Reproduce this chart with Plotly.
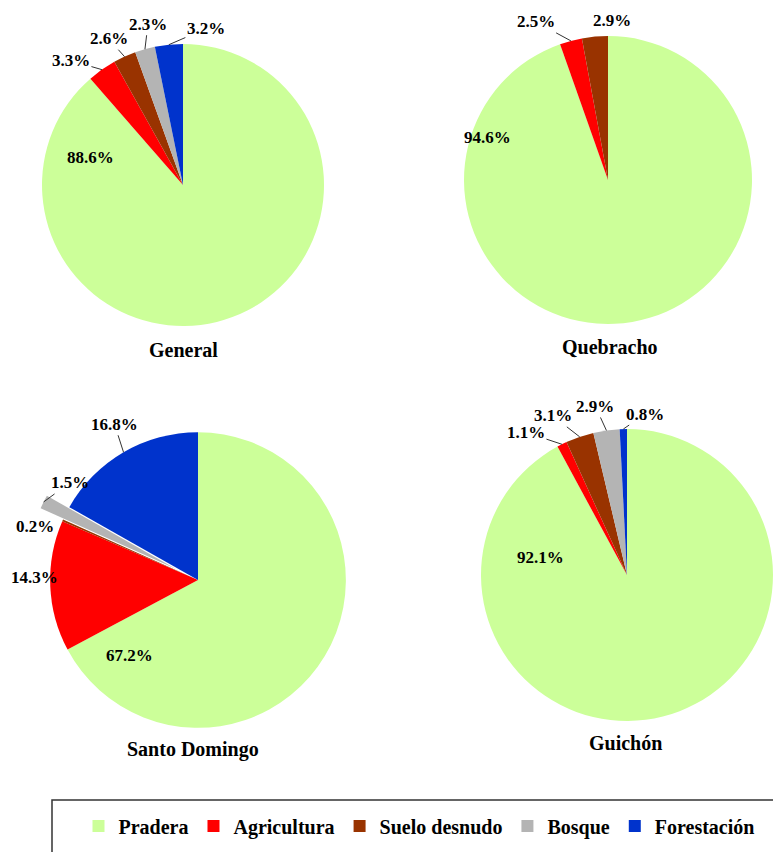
import math
import plotly.graph_objects as go

categories = ["Pradera", "Agricultura", "Suelo desnudo", "Bosque", "Forestación"]
colors = ["#CCFF99", "#FF0000", "#993300", "#B4B4B4", "#0033CC"]

general = [88.6, 3.3, 2.6, 2.3, 3.2]
quebracho = [94.6, 2.5, 2.9, 0.0, 0.0]
santo_domingo = [67.2, 14.3, 0.2, 1.5, 16.8]
guichon = [92.1, 1.1, 3.1, 2.9, 0.8]

pie_titles = ["General", "Quebracho", "Santo Domingo", "Guichón"]
pie_values = [general, quebracho, santo_domingo, guichon]
pulls = [[0, 0, 0, 0, 0], [0, 0, 0, 0, 0], [0, 0, 0, 0.17, 0], [0, 0, 0, 0, 0]]

W, H = 781, 852
OFF = 8  # page body margin
SERIF = "Liberation Serif"


def px(x):
    return (x - OFF) / W


def py(y):
    return 1 - (y - OFF) / H


# pixel boxes (left, top, right, bottom) as seen on the page
boxes = [(42, 44, 324, 326), (464, 36, 752, 324), (25, 407, 371, 753), (481, 429, 773, 721)]
title_pos = [(183, 350), (610, 347), (193, 749), (625, 743)]
big_label_pos = [(90, 157), (488, 137), (130, 655), (540, 557)]
# small-slice label offsets from the slice edge (px) and whether a leader line is drawn
label_offsets = [
    [None, (-31, -9, True), (-16, -18, True), (3, -25, True), (37, -16, True)],
    [None, (-35, -19, True), (17, -16, False), None, None],
    [None, (-16, -9, False), (-28, 6, False), (26, -19, True), (-9, -28, True)],
    [None, (-36, -12, True), (-27, -21, True), (-11, -24, True), (22, -15, True)],
]
label_font = dict(family=SERIF, size=17, color="black", weight="bold")

fig = go.Figure()
for i, (vals, box) in enumerate(zip(pie_values, boxes)):
    l, t, r, b = box
    fig.add_trace(go.Pie(
        labels=categories, values=vals, textinfo="none",
        sort=False, direction="clockwise", rotation=0, pull=pulls[i],
        marker=dict(colors=colors, line=dict(width=0)),
        domain=dict(x=[px(l), px(r)], y=[py(b), py(t)]),
        showlegend=(i == 0), hoverinfo="label+percent",
    ))

    # geometry of the drawn pie, used to hook the labels onto the slices
    cx, cy = (l + r) / 2, (t + b) / 2
    rad = min(r - l, b - t) / 2 / (1 + max(pulls[i]))
    total = sum(vals)
    cum = 0
    for j, v in enumerate(vals):
        mid = 2 * math.pi * (cum + v / 2) / total
        cum += v
        off = label_offsets[i][j]
        if v <= 0 or off is None:
            continue
        rr = rad * (1 + pulls[i][j])
        ex, ey = cx + rr * math.sin(mid), cy - rr * math.cos(mid)
        ax, ay, line = off
        if line:
            fig.add_annotation(x=px(ex), y=py(ey), xref="paper", yref="paper",
                               text=f"{v:.1f}%", showarrow=True, arrowhead=0,
                               arrowwidth=1, arrowcolor="#333333", standoff=0,
                               ax=ax, ay=ay, font=label_font)
        else:
            fig.add_annotation(x=px(ex + ax), y=py(ey + ay), xref="paper", yref="paper",
                               xanchor="center", yanchor="middle",
                               text=f"{v:.1f}%", showarrow=False, font=label_font)

    bx, by = big_label_pos[i]
    fig.add_annotation(x=px(bx), y=py(by), xref="paper", yref="paper",
                       xanchor="center", yanchor="middle",
                       text=f"{vals[0]:.1f}%", showarrow=False, font=label_font)
    tx, ty = title_pos[i]
    fig.add_annotation(x=px(tx), y=py(ty), xref="paper", yref="paper",
                       xanchor="center", yanchor="middle",
                       text=pie_titles[i], showarrow=False,
                       font=dict(family=SERIF, size=20, color="black", weight="bold"))

# legend frame
fig.add_shape(type="rect", xref="paper", yref="paper",
              x0=px(52), x1=px(800), y0=py(870), y1=py(800),
              line=dict(color="#333333", width=1.5), fillcolor="rgba(0,0,0,0)")

fig.update_layout(
    width=W, height=H, margin=dict(l=0, r=0, t=0, b=0, autoexpand=False),
    paper_bgcolor="white", plot_bgcolor="white",
    legend=dict(orientation="h", x=px(419), xanchor="center", y=py(826), yanchor="middle",
                borderwidth=0, bgcolor="rgba(0,0,0,0)",
                font=dict(family=SERIF, size=20, color="black", weight="bold")),
)
fig.write_html("out.html")
